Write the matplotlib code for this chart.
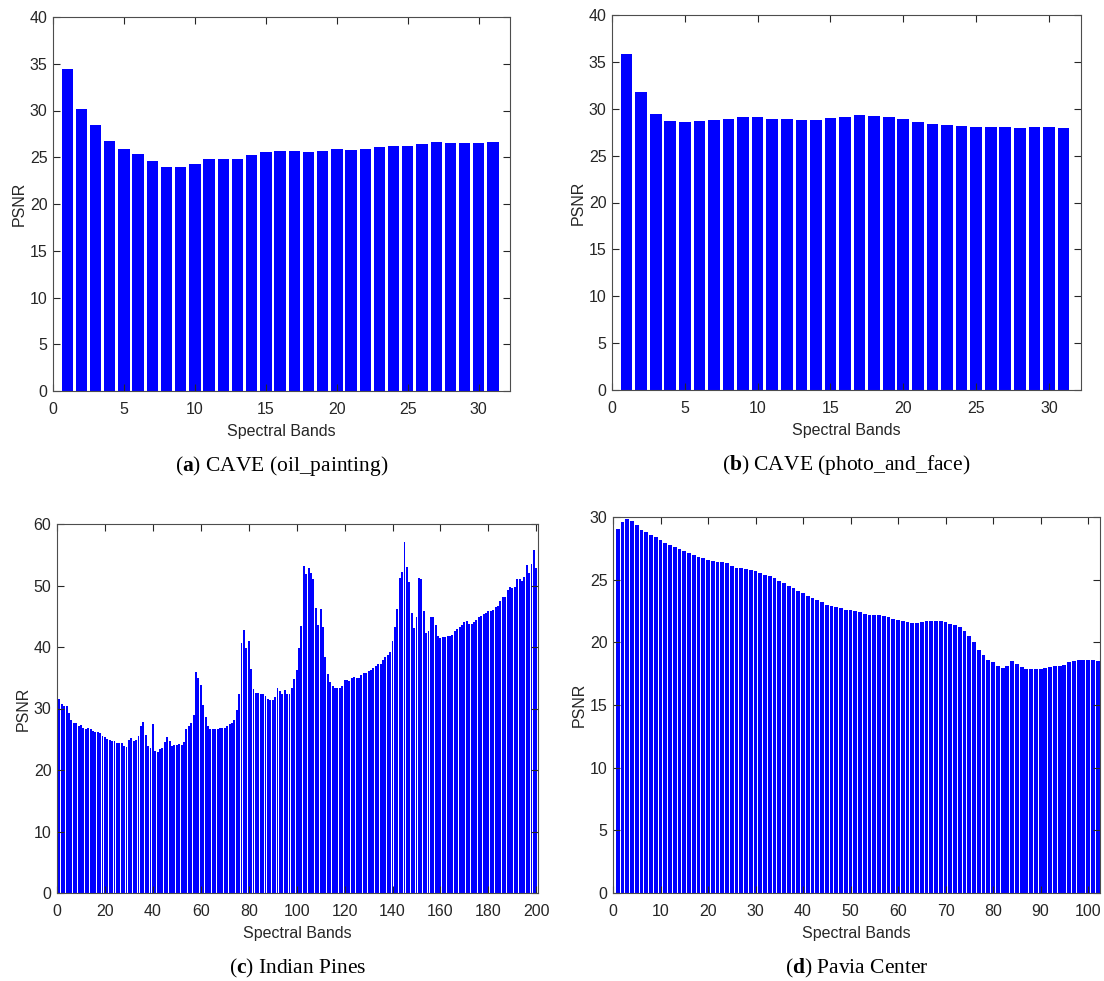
import numpy as np
import matplotlib
matplotlib.use('Agg')
import matplotlib.pyplot as plt

# ==================== Data ====================
# (a) CAVE oil_painting, 31 bands
psnr_oil = [34.4, 30.2, 28.5, 26.75, 25.86, 25.4, 24.64, 24.0, 23.93, 24.25,
            24.86, 24.82, 24.82, 25.25, 25.57, 25.71, 25.64, 25.54, 25.71, 25.86,
            25.79, 25.93, 26.07, 26.25, 26.25, 26.46, 26.6, 26.5, 26.5, 26.54, 26.6]

# (b) CAVE photo_and_face, 31 bands
psnr_face = [35.84, 31.8, 29.45, 28.67, 28.6, 28.67, 28.8, 28.95, 29.13, 29.1,
             28.92, 28.95, 28.85, 28.85, 29.02, 29.13, 29.3, 29.2, 29.13, 28.88,
             28.56, 28.38, 28.24, 28.2, 28.1, 28.06, 28.06, 27.99, 28.06, 28.03, 27.92]

# (c) Indian Pines, 200 bands
psnr_pines = [
    31.5, 30.8, 30.4, 30.4, 29.3, 28.1, 27.6, 27.6, 27.1, 27.3,
    26.9, 26.7, 26.9, 26.6, 26.3, 26.1, 26.1, 26.0, 25.6, 25.4,
    25.1, 24.8, 24.7, 24.7, 24.4, 24.4, 24.4, 23.9, 23.8, 24.8,
    25.2, 24.7, 24.9, 25.6, 27.1, 27.8, 25.7, 23.9, 23.6, 27.4,
    23.1, 22.9, 23.4, 23.6, 24.5, 25.4, 24.7, 23.9, 24.0, 24.0,
    24.2, 24.1, 24.5, 26.6, 27.2, 27.6, 28.9, 35.9, 35.0, 33.8,
    30.5, 28.6, 27.2, 26.6, 26.7, 26.7, 26.7, 26.8, 26.8, 26.8,
    27.1, 27.4, 27.7, 28.1, 29.7, 32.4, 40.6, 42.7, 39.8, 40.9,
    36.5, 33.2, 32.6, 32.6, 32.3, 32.3, 32.0, 31.6, 31.4, 31.4,
    31.8, 33.3, 32.9, 32.4, 33.0, 32.3, 32.4, 33.3, 34.8, 36.2,
    39.8, 43.4, 53.1, 51.9, 52.9, 52.1, 51.0, 46.4, 43.6, 46.1,
    43.2, 38.4, 35.6, 34.3, 33.6, 33.3, 33.3, 33.4, 33.7, 34.6,
    34.6, 34.5, 35.0, 35.2, 34.9, 35.0, 35.5, 35.7, 35.7, 36.1,
    36.2, 36.6, 36.9, 37.2, 37.3, 37.9, 38.4, 38.7, 39.2, 40.9,
    43.3, 46.2, 51.2, 52.2, 57.1, 53.0, 50.6, 45.6, 43.1, 44.8,
    51.2, 51.0, 45.8, 42.2, 42.6, 44.8, 44.9, 43.5, 41.8, 41.5,
    41.6, 41.7, 41.8, 41.8, 42.0, 42.6, 43.0, 43.2, 43.5, 44.0,
    44.3, 43.8, 43.7, 44.0, 44.4, 44.8, 45.1, 45.3, 45.5, 45.9,
    45.9, 46.0, 46.5, 46.7, 47.5, 48.1, 48.1, 49.2, 49.7, 49.6,
    49.7, 51.1, 51.1, 50.7, 51.4, 53.3, 52.1, 53.5, 55.8, 52.8]

# (d) Pavia Center, 102 bands
psnr_pavia = [
    29.03, 29.6, 29.87, 29.7, 29.33, 29.0, 28.8, 28.6, 28.4, 28.2,
    27.96, 27.8, 27.6, 27.45, 27.3, 27.1, 27.0, 26.8, 26.7, 26.6,
    26.5, 26.4, 26.4, 26.3, 26.1, 25.9, 25.9, 25.86, 25.8, 25.7,
    25.5, 25.4, 25.3, 25.1, 24.9, 24.7, 24.5, 24.3, 24.1, 23.9,
    23.7, 23.5, 23.4, 23.2, 23.0, 22.9, 22.8, 22.7, 22.6, 22.6,
    22.5, 22.4, 22.3, 22.2, 22.2, 22.15, 22.07, 22.0, 21.9, 21.8,
    21.7, 21.6, 21.56, 21.56, 21.6, 21.7, 21.7, 21.7, 21.7, 21.6,
    21.5, 21.4, 21.2, 20.9, 20.5, 20.0, 19.4, 19.0, 18.6, 18.4,
    18.1, 17.96, 18.1, 18.5, 18.3, 18.0, 17.9, 17.9, 17.9, 17.9,
    17.98, 18.06, 18.1, 18.1, 18.2, 18.4, 18.5, 18.6, 18.6, 18.6,
    18.6, 18.55]

captions = [('a', ' CAVE (oil_painting)'), ('b', ' CAVE (photo_and_face)'),
            ('c', ' Indian Pines'), ('d', ' Pavia Center')]

# ==================== Figure ====================
W, H = 1104, 981
plt.rcParams['font.family'] = ['Liberation Sans', 'DejaVu Sans']
plt.rcParams['mathtext.fontset'] = 'custom'
plt.rcParams['mathtext.rm'] = 'Liberation Serif'
plt.rcParams['mathtext.bf'] = 'Liberation Serif:bold'
fig = plt.figure(figsize=(W / 100, H / 100), dpi=100)

def box(x0, y0, x1, y1):
    # pixel box -> figure fraction
    return [x0 / W, 1 - y1 / H, (x1 - x0) / W, (y1 - y0) / H]

panels = [
    (psnr_oil, box(53, 17, 510, 391), (0, 32.2), (0, 40), np.arange(0, 31, 5), np.arange(0, 41, 5)),
    (psnr_face, box(612, 15, 1081, 390), (0, 32.2), (0, 40), np.arange(0, 31, 5), np.arange(0, 41, 5)),
    (psnr_pines, box(57, 524, 538, 893), (0, 200.7), (0, 60), np.arange(0, 201, 20), np.arange(0, 61, 10)),
    (psnr_pavia, box(613, 517, 1100, 893), (0, 102.5), (0, 30), np.arange(0, 101, 10), np.arange(0, 31, 5)),
]

grey = '#262626'
for (vals, rect, xl, yl, xt, yt), (tag, name) in zip(panels, captions):
    ax = fig.add_axes(rect)
    bands = np.arange(1, len(vals) + 1)
    ax.bar(bands, vals, width=0.8, color='#0000ff', edgecolor='none')
    ax.set_xlim(*xl)
    ax.set_ylim(*yl)
    ax.set_xticks(xt)
    ax.set_yticks(yt)
    ax.tick_params(direction='in', top=True, right=True, length=5, width=0.8,
                   colors=grey, labelsize=11.5)
    ax.tick_params(axis='x', pad=8)
    ax.tick_params(axis='y', pad=4)
    for s in ax.spines.values():
        s.set_color('#4d4d4d')
        s.set_linewidth(0.8)
    ax.set_xlabel('Spectral Bands', fontsize=11.5, color=grey, labelpad=5)
    ax.set_ylabel('PSNR', fontsize=11.5, color=grey, labelpad=2)

    # caption below the panel
    cx = rect[0] + rect[2] / 2
    cy = rect[1] - 75 / H
    fig.text(cx, cy, r'($\mathbf{' + tag + r'}$)' + name, ha='center', va='center',
             fontsize=15.5, family='Liberation Serif')

fig.savefig('out.png', dpi=100)
